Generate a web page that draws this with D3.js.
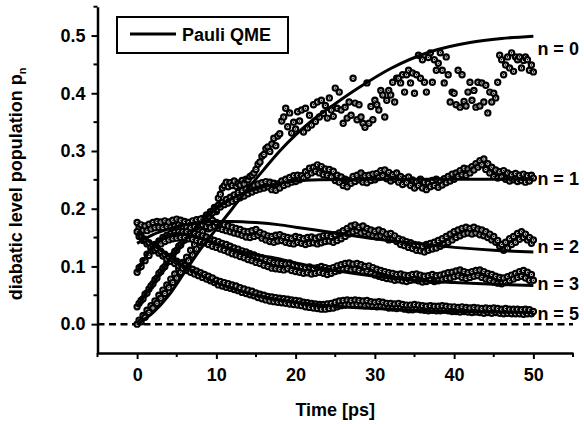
<!DOCTYPE html>
<html>
<head>
<meta charset="utf-8">
<script src="https://cdn.jsdelivr.net/npm/d3@7"></script>
<style>
  body { margin: 0; background: #fff; }
  svg text { font-family: "Liberation Sans", Arial, sans-serif; font-weight: bold; fill: #000; }
</style>
</head>
<body>
<div id="chart"></div>
<script>
// sampling grid of the simulation output (ps), 0.25 ps step
const times = d3.range(0, 50.001, 0.25);

// simulated populations (circles)
const dataN0 = [
  0.000, 0.007, 0.004, 0.015, 0.012, 0.024, 0.020, 0.032, 0.028, 0.040, 0.036, 0.050,
  0.045, 0.059, 0.053, 0.068, 0.063, 0.078, 0.072, 0.087, 0.080, 0.096, 0.090, 0.107,
  0.100, 0.116, 0.110, 0.128, 0.120, 0.138, 0.130, 0.149, 0.141, 0.160, 0.152, 0.172,
  0.165, 0.186, 0.178, 0.202, 0.195, 0.218, 0.225, 0.236, 0.240, 0.246, 0.238, 0.245,
  0.240, 0.248, 0.239, 0.244, 0.241, 0.249, 0.243, 0.251, 0.250, 0.256, 0.258, 0.262,
  0.268, 0.277, 0.281, 0.291, 0.294, 0.304, 0.307, 0.299, 0.312, 0.322, 0.309, 0.326,
  0.330, 0.352, 0.359, 0.374, 0.342, 0.366, 0.331, 0.350, 0.338, 0.368, 0.352, 0.371,
  0.333, 0.374, 0.340, 0.362, 0.345, 0.380, 0.351, 0.385, 0.359, 0.388, 0.365, 0.379,
  0.357, 0.392, 0.371, 0.360, 0.409, 0.374, 0.402, 0.371, 0.348, 0.376, 0.357, 0.385,
  0.362, 0.426, 0.383, 0.354, 0.380, 0.359, 0.348, 0.341, 0.418, 0.348, 0.377, 0.354,
  0.388, 0.380, 0.371, 0.405, 0.397, 0.359, 0.388, 0.405, 0.397, 0.419, 0.385, 0.426,
  0.426, 0.418, 0.432, 0.402, 0.432, 0.440, 0.418, 0.435, 0.400, 0.432, 0.466, 0.426,
  0.458, 0.419, 0.402, 0.462, 0.470, 0.419, 0.458, 0.440, 0.452, 0.470, 0.440, 0.418,
  0.463, 0.432, 0.385, 0.402, 0.400, 0.380, 0.440, 0.376, 0.432, 0.386, 0.378, 0.402,
  0.419, 0.388, 0.405, 0.376, 0.419, 0.378, 0.418, 0.385, 0.414, 0.366, 0.402, 0.385,
  0.400, 0.392, 0.419, 0.466, 0.458, 0.432, 0.449, 0.463, 0.444, 0.470, 0.438, 0.463,
  0.458, 0.463, 0.444, 0.457, 0.463, 0.458, 0.440, 0.449, 0.437
];
const dataN1 = [
  0.030, 0.036, 0.041, 0.044, 0.052, 0.054, 0.061, 0.066,
  0.070, 0.077, 0.080, 0.088, 0.091, 0.097, 0.100, 0.107,
  0.110, 0.117, 0.119, 0.126, 0.128, 0.135, 0.137, 0.144,
  0.146, 0.153, 0.153, 0.161, 0.161, 0.168, 0.168, 0.175,
  0.176, 0.183, 0.181, 0.189, 0.187, 0.195, 0.193, 0.200,
  0.198, 0.206, 0.203, 0.211, 0.207, 0.216, 0.210, 0.220,
  0.213, 0.224, 0.216, 0.228, 0.219, 0.231, 0.222, 0.234,
  0.226, 0.238, 0.229, 0.241, 0.232, 0.243, 0.234, 0.245,
  0.236, 0.247, 0.238, 0.246, 0.233, 0.244, 0.232, 0.243,
  0.236, 0.248, 0.240, 0.251, 0.243, 0.254, 0.246, 0.257,
  0.247, 0.258, 0.250, 0.257, 0.253, 0.264, 0.258, 0.270,
  0.262, 0.272, 0.265, 0.276, 0.262, 0.273, 0.259, 0.269,
  0.258, 0.268, 0.255, 0.265, 0.249, 0.258, 0.246, 0.255,
  0.240, 0.251, 0.238, 0.249, 0.244, 0.256, 0.247, 0.258,
  0.250, 0.262, 0.246, 0.257, 0.245, 0.258, 0.249, 0.260,
  0.250, 0.261, 0.254, 0.266, 0.257, 0.267, 0.252, 0.263,
  0.248, 0.259, 0.251, 0.262, 0.246, 0.256, 0.242, 0.252,
  0.245, 0.255, 0.240, 0.250, 0.236, 0.247, 0.240, 0.251,
  0.236, 0.246, 0.233, 0.244, 0.238, 0.249, 0.240, 0.251,
  0.237, 0.248, 0.241, 0.252, 0.245, 0.256, 0.248, 0.260,
  0.251, 0.262, 0.256, 0.266, 0.259, 0.270, 0.258, 0.269,
  0.262, 0.273, 0.267, 0.278, 0.272, 0.283, 0.276, 0.286,
  0.268, 0.278, 0.262, 0.272, 0.256, 0.267, 0.253, 0.264,
  0.255, 0.266, 0.251, 0.262, 0.248, 0.259, 0.250, 0.261,
  0.247, 0.258, 0.249, 0.260, 0.246, 0.257, 0.248, 0.258,
  0.253
];
const dataN2 = [
  0.176, 0.168, 0.172, 0.163, 0.170, 0.162, 0.173, 0.165,
  0.176, 0.167, 0.178, 0.168, 0.177, 0.167, 0.179, 0.169,
  0.177, 0.168, 0.180, 0.170, 0.182, 0.172, 0.180, 0.170,
  0.178, 0.168, 0.176, 0.167, 0.179, 0.169, 0.181, 0.171,
  0.182, 0.172, 0.179, 0.169, 0.176, 0.167, 0.180, 0.170,
  0.176, 0.166, 0.174, 0.164, 0.172, 0.162, 0.170, 0.160,
  0.168, 0.158, 0.166, 0.156, 0.164, 0.154, 0.161, 0.151,
  0.160, 0.150, 0.162, 0.152, 0.164, 0.154, 0.159, 0.149,
  0.156, 0.146, 0.153, 0.143, 0.152, 0.142, 0.154, 0.144,
  0.155, 0.145, 0.152, 0.142, 0.150, 0.140, 0.149, 0.139,
  0.152, 0.142, 0.150, 0.140, 0.148, 0.138, 0.150, 0.140,
  0.151, 0.141, 0.149, 0.139, 0.151, 0.141, 0.153, 0.143,
  0.154, 0.144, 0.152, 0.142, 0.155, 0.145, 0.158, 0.148,
  0.162, 0.152, 0.166, 0.156, 0.170, 0.160, 0.172, 0.162,
  0.168, 0.158, 0.170, 0.160, 0.166, 0.156, 0.163, 0.153,
  0.161, 0.151, 0.163, 0.153, 0.160, 0.150, 0.156, 0.146,
  0.157, 0.147, 0.153, 0.143, 0.148, 0.138, 0.146, 0.136,
  0.143, 0.133, 0.141, 0.131, 0.138, 0.128, 0.137, 0.127,
  0.135, 0.125, 0.138, 0.128, 0.140, 0.130, 0.142, 0.132,
  0.145, 0.135, 0.148, 0.138, 0.152, 0.142, 0.156, 0.146,
  0.160, 0.150, 0.163, 0.153, 0.166, 0.156, 0.168, 0.158,
  0.166, 0.156, 0.168, 0.158, 0.165, 0.155, 0.163, 0.153,
  0.160, 0.150, 0.156, 0.146, 0.152, 0.142, 0.145, 0.135,
  0.138, 0.128, 0.142, 0.132, 0.148, 0.138, 0.152, 0.142,
  0.157, 0.147, 0.160, 0.150, 0.156, 0.146, 0.150, 0.140,
  0.146
];
const dataN3 = [
  0.090, 0.098, 0.100, 0.110, 0.110, 0.121, 0.119, 0.130,
  0.127, 0.138, 0.133, 0.144, 0.139, 0.150, 0.143, 0.154,
  0.146, 0.157, 0.148, 0.159, 0.149, 0.160, 0.150, 0.160,
  0.150, 0.160, 0.148, 0.158, 0.147, 0.157, 0.145, 0.155,
  0.143, 0.153, 0.141, 0.151, 0.138, 0.148, 0.135, 0.145,
  0.133, 0.143, 0.130, 0.140, 0.128, 0.138, 0.125, 0.135,
  0.122, 0.132, 0.120, 0.130, 0.117, 0.127, 0.115, 0.125,
  0.112, 0.122, 0.110, 0.120, 0.107, 0.117, 0.105, 0.115,
  0.102, 0.112, 0.100, 0.110, 0.097, 0.107, 0.096, 0.106,
  0.095, 0.105, 0.094, 0.104, 0.096, 0.106, 0.093, 0.103,
  0.091, 0.101, 0.090, 0.100, 0.088, 0.098, 0.089, 0.099,
  0.087, 0.097, 0.088, 0.098, 0.090, 0.100, 0.088, 0.098,
  0.086, 0.096, 0.088, 0.098, 0.091, 0.101, 0.093, 0.103,
  0.095, 0.105, 0.096, 0.106, 0.094, 0.104, 0.095, 0.105,
  0.093, 0.103, 0.090, 0.100, 0.091, 0.101, 0.088, 0.098,
  0.085, 0.095, 0.083, 0.093, 0.081, 0.091, 0.079, 0.089,
  0.078, 0.088, 0.076, 0.086, 0.077, 0.087, 0.075, 0.085,
  0.074, 0.084, 0.076, 0.086, 0.077, 0.087, 0.075, 0.085,
  0.073, 0.083, 0.074, 0.084, 0.076, 0.086, 0.074, 0.084,
  0.075, 0.085, 0.077, 0.087, 0.079, 0.089, 0.080, 0.090,
  0.082, 0.092, 0.084, 0.094, 0.081, 0.091, 0.079, 0.089,
  0.081, 0.091, 0.083, 0.093, 0.084, 0.094, 0.081, 0.091,
  0.078, 0.088, 0.076, 0.086, 0.073, 0.083, 0.071, 0.081,
  0.070, 0.080, 0.072, 0.082, 0.075, 0.085, 0.078, 0.088,
  0.081, 0.091, 0.083, 0.093, 0.080, 0.090, 0.076, 0.086,
  0.076
];
const dataN5 = [
  0.160, 0.152, 0.153, 0.145, 0.147, 0.139, 0.141, 0.133,
  0.136, 0.128, 0.131, 0.123, 0.126, 0.118, 0.121, 0.113,
  0.117, 0.109, 0.113, 0.105, 0.109, 0.101, 0.105, 0.097,
  0.101, 0.093, 0.098, 0.090, 0.095, 0.087, 0.092, 0.084,
  0.089, 0.081, 0.086, 0.078, 0.083, 0.075, 0.080, 0.072,
  0.076, 0.068, 0.074, 0.066, 0.072, 0.064, 0.070, 0.062,
  0.068, 0.060, 0.066, 0.058, 0.063, 0.055, 0.061, 0.053,
  0.059, 0.051, 0.057, 0.049, 0.054, 0.046, 0.052, 0.044,
  0.050, 0.042, 0.048, 0.040, 0.047, 0.039, 0.046, 0.038,
  0.045, 0.037, 0.044, 0.036, 0.043, 0.035, 0.042, 0.034,
  0.041, 0.033, 0.040, 0.032, 0.038, 0.030, 0.037, 0.029,
  0.036, 0.028, 0.035, 0.027, 0.034, 0.026, 0.034, 0.026,
  0.035, 0.027, 0.036, 0.028, 0.038, 0.030, 0.040, 0.032,
  0.041, 0.033, 0.042, 0.034, 0.041, 0.033, 0.042, 0.034,
  0.041, 0.033, 0.040, 0.032, 0.041, 0.033, 0.039, 0.031,
  0.038, 0.030, 0.039, 0.031, 0.038, 0.030, 0.036, 0.028,
  0.036, 0.028, 0.035, 0.027, 0.036, 0.028, 0.034, 0.026,
  0.033, 0.025, 0.033, 0.025, 0.034, 0.026, 0.033, 0.025,
  0.032, 0.024, 0.031, 0.023, 0.032, 0.024, 0.031, 0.023,
  0.031, 0.023, 0.032, 0.024, 0.031, 0.023, 0.030, 0.022,
  0.030, 0.022, 0.029, 0.021, 0.030, 0.022, 0.029, 0.021,
  0.028, 0.020, 0.029, 0.021, 0.028, 0.020, 0.027, 0.019,
  0.028, 0.020, 0.027, 0.019, 0.028, 0.020, 0.027, 0.019,
  0.026, 0.018, 0.027, 0.019, 0.026, 0.018, 0.026, 0.018,
  0.026, 0.018, 0.025, 0.017, 0.026, 0.018, 0.025, 0.018,
  0.022
];

// Pauli QME curves (knots)
const qmeN0 = [[0, 0.0], [2, 0.02], [4, 0.05], [6, 0.09], [8, 0.13], [10, 0.165], [12, 0.2], [14, 0.235],
  [16, 0.268], [18, 0.3], [20, 0.328], [22, 0.352], [25, 0.382], [28, 0.41], [32, 0.443], [37, 0.472],
  [42, 0.488], [46, 0.495], [50, 0.499]];
const qmeN1 = [[0, 0.03], [2, 0.07], [4, 0.11], [6, 0.145], [8, 0.175], [10, 0.2], [12, 0.218], [14, 0.23],
  [16, 0.238], [18, 0.244], [20, 0.248], [23, 0.25], [30, 0.251], [40, 0.251], [50, 0.251]];
const qmeN2 = [[0, 0.14], [2, 0.155], [4, 0.165], [6, 0.172], [8, 0.176], [10, 0.178], [12, 0.178], [15, 0.176],
  [18, 0.172], [20, 0.168], [25, 0.158], [30, 0.148], [35, 0.14], [40, 0.133], [45, 0.128], [50, 0.125]];
const qmeN3 = [[0, 0.09], [1, 0.115], [2, 0.135], [3, 0.148], [4, 0.155], [5, 0.157], [6, 0.156], [8, 0.15],
  [10, 0.14], [12, 0.13], [15, 0.12], [18, 0.113], [20, 0.106], [25, 0.093], [30, 0.083], [35, 0.076],
  [40, 0.072], [45, 0.069], [50, 0.067]];
const qmeN5 = [[0, 0.16], [2, 0.138], [4, 0.118], [6, 0.1], [8, 0.085], [10, 0.072], [12, 0.062], [15, 0.05],
  [18, 0.042], [20, 0.038], [25, 0.031], [30, 0.027], [35, 0.024], [40, 0.022], [45, 0.021], [50, 0.02]];

const levelLabels = ['n = 0', 'n = 1', 'n = 2', 'n = 3', 'n = 5'];
const labelValues = [0.477, 0.252, 0.134, 0.071, 0.019];
const xTicks = [0, 10, 20, 30, 40, 50];
const yTicks = [0.0, 0.1, 0.2, 0.3, 0.4, 0.5];

const width = 584, height = 424;

const svg = d3.select('#chart').append('svg')
  .attr('width', width)
  .attr('height', height);

const x = d3.scaleLinear().domain([-5, 55]).range([97.5, 573]);
const y = d3.scaleLinear().domain([-0.05, 0.55]).range([353, 6.7]);

// zero reference line
svg.append('line')
  .attr('x1', x(-5)).attr('x2', x(55))
  .attr('y1', y(0)).attr('y2', y(0))
  .attr('stroke', '#000')
  .attr('stroke-width', 2.5)
  .attr('stroke-dasharray', '7,4.5');

// data points
const points = [];
[dataN0, dataN1, dataN2, dataN3, dataN5].forEach(vals =>
  vals.forEach((v, i) => points.push([times[i], v])));

const dots = svg.append('g').attr('class', 'dots');
dots.selectAll('circle.ring')
  .data(points)
  .enter().append('circle')
  .attr('class', 'ring')
  .attr('cx', d => x(d[0]))
  .attr('cy', d => y(d[1]))
  .attr('r', 2.6)
  .attr('fill', '#fff')
  .attr('stroke', '#000')
  .attr('stroke-width', 2.2);
dots.selectAll('circle.center')
  .data(points)
  .enter().append('circle')
  .attr('class', 'center')
  .attr('cx', d => x(d[0]))
  .attr('cy', d => y(d[1]))
  .attr('r', 0.8)
  .attr('fill', '#000');

// Pauli QME curves
const line = d3.line()
  .x(d => x(d[0]))
  .y(d => y(d[1]))
  .curve(d3.curveMonotoneX);

svg.append('g').attr('class', 'curves')
  .selectAll('path')
  .data([qmeN0, qmeN1, qmeN2, qmeN3, qmeN5])
  .enter().append('path')
  .attr('d', line)
  .attr('fill', 'none')
  .attr('stroke', '#000')
  .attr('stroke-width', 3);

// level labels
svg.append('g').attr('class', 'labels')
  .selectAll('text')
  .data(levelLabels)
  .enter().append('text')
  .attr('x', x(50) + 4)
  .attr('y', (d, i) => y(labelValues[i]) + 6.5)
  .attr('font-size', 18)
  .text(d => d);

// axes
function styleAxis(g) {
  g.select('.domain').attr('stroke-width', 2.5);
  g.selectAll('.tick line').attr('stroke-width', 2);
  g.selectAll('.tick text').attr('font-size', 18).attr('font-family', null);
}

const xAxis = svg.append('g')
  .attr('transform', `translate(0,${y(-0.05)})`)
  .call(d3.axisBottom(x).tickValues(xTicks).tickSize(6).tickSizeOuter(0).tickPadding(9).tickFormat(d3.format('d')))
  .call(styleAxis);
xAxis.append('g')
  .selectAll('line')
  .data(d3.range(-5, 56, 10))
  .enter().append('line')
  .attr('x1', d => x(d)).attr('x2', d => x(d))
  .attr('y1', 0).attr('y2', 4)
  .attr('stroke', '#000').attr('stroke-width', 2);

const yAxis = svg.append('g')
  .attr('transform', `translate(${x(-5)},0)`)
  .call(d3.axisLeft(y).tickValues(yTicks).tickSize(6).tickSizeOuter(0).tickPadding(6).tickFormat(d3.format('.1f')))
  .call(styleAxis);
yAxis.append('g')
  .selectAll('line')
  .data([0.05, 0.15, 0.25, 0.35, 0.45, 0.55])
  .enter().append('line')
  .attr('y1', d => y(d)).attr('y2', d => y(d))
  .attr('x1', 0).attr('x2', -4)
  .attr('stroke', '#000').attr('stroke-width', 2);

// axis titles
svg.append('text')
  .attr('x', (x(-5) + x(55)) / 2)
  .attr('y', 416)
  .attr('text-anchor', 'middle')
  .attr('font-size', 18)
  .text('Time [ps]');

const yTitle = svg.append('text')
  .attr('transform', `translate(22,${(y(-0.05) + y(0.55)) / 2 + 4}) rotate(-90)`)
  .attr('text-anchor', 'middle')
  .attr('font-size', 18);
yTitle.append('tspan').text('diabatic level population p');
yTitle.append('tspan').attr('font-size', 11).attr('dy', 4).text('n');

// legend
const legend = svg.append('g').attr('class', 'legend');
legend.append('rect')
  .attr('x', 117).attr('y', 17)
  .attr('width', 171).attr('height', 36)
  .attr('fill', '#fff')
  .attr('stroke', '#000')
  .attr('stroke-width', 2);
legend.append('line')
  .attr('x1', 130).attr('x2', 176)
  .attr('y1', 34).attr('y2', 34)
  .attr('stroke', '#000')
  .attr('stroke-width', 3);
legend.append('text')
  .attr('x', 182).attr('y', 41)
  .attr('font-size', 18)
  .text('Pauli QME');
</script>
</body>
</html>
